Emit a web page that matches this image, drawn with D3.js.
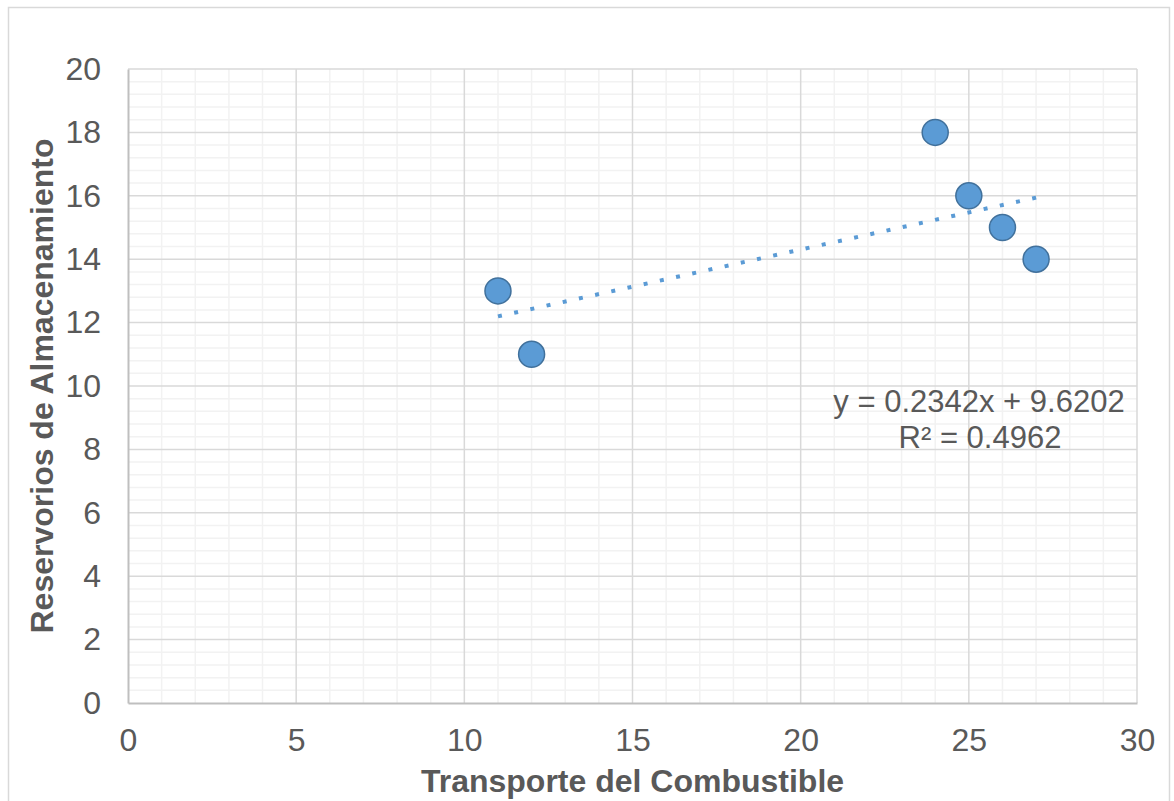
<!DOCTYPE html>
<html>
<head>
<meta charset="utf-8">
<script src="https://cdn.jsdelivr.net/npm/d3@7"></script>
<style>
  body { margin: 0; background: #fff; }
  text { font-family: "Liberation Sans", Arial, sans-serif; fill: #595959; }
</style>
</head>
<body>
<div id="chart"></div>
<script>
const width = 1174
const height = 801
const margin = { top: 69, right: 37, bottom: 98, left: 128 }

// datos
const transporte = [11, 12, 24, 25, 26, 27]
const reservorios = [13, 11, 18, 16, 15, 14]
const xTicks = [0, 5, 10, 15, 20, 25, 30]
const yTicks = [0, 2, 4, 6, 8, 10, 12, 14, 16, 18, 20]
const slope = 0.2342
const intercept = 9.6202
const eqLabel = "y = 0.2342x + 9.6202"
const r2Label = "R² = 0.4962"

const svg = d3.select("#chart").append("svg")
  .attr("width", width)
  .attr("height", height)

svg.append("rect")
  .attr("x", 8.5).attr("y", 7.5)
  .attr("width", 1161).attr("height", 800)
  .attr("fill", "none")
  .attr("stroke", "#d9d9d9")
  .attr("stroke-width", 1.5)

const x = d3.scaleLinear().domain([0, 30]).range([margin.left, width - margin.right])
const y = d3.scaleLinear().domain([0, 20]).range([height - margin.bottom, margin.top])

// minor grid
const xMinor = d3.range(0, 31, 1).filter(d => d % 5 !== 0)
const yMinor = d3.range(0, 20.01, 0.4).filter(d => Math.abs(d / 2 - Math.round(d / 2)) > 0.01)

svg.append("g").selectAll("line").data(xMinor).join("line")
  .attr("x1", d => x(d)).attr("x2", d => x(d))
  .attr("y1", y(0)).attr("y2", y(20))
  .attr("stroke", "#f2f2f2").attr("stroke-width", 1.5)
svg.append("g").selectAll("line").data(yMinor).join("line")
  .attr("y1", d => y(d)).attr("y2", d => y(d))
  .attr("x1", x(0)).attr("x2", x(30))
  .attr("stroke", "#f2f2f2").attr("stroke-width", 1.5)

// major grid
svg.append("g").selectAll("line").data(xTicks.slice(1)).join("line")
  .attr("x1", d => x(d)).attr("x2", d => x(d))
  .attr("y1", y(0)).attr("y2", y(20))
  .attr("stroke", "#d9d9d9").attr("stroke-width", 1.5)
svg.append("g").selectAll("line").data(yTicks.slice(1)).join("line")
  .attr("y1", d => y(d)).attr("y2", d => y(d))
  .attr("x1", x(0)).attr("x2", x(30))
  .attr("stroke", "#d9d9d9").attr("stroke-width", 1.5)

// axes
const xAxis = svg.append("g")
  .attr("transform", `translate(0,${y(0)})`)
  .call(d3.axisBottom(x).tickValues(xTicks).tickSize(0).tickPadding(25))
xAxis.select(".domain").attr("stroke", "#bfbfbf").attr("stroke-width", 2)
xAxis.selectAll("text").style("font-size", "32px").attr("fill", "#595959")

const yAxis = svg.append("g")
  .attr("transform", `translate(${x(0)},0)`)
  .call(d3.axisLeft(y).tickValues(yTicks).tickSize(0).tickPadding(27))
yAxis.select(".domain").attr("stroke", "#bfbfbf").attr("stroke-width", 2)
yAxis.selectAll("text").style("font-size", "32px").attr("fill", "#595959")

// trendline (punteado que termina en un punto)
const xs = d3.extent(transporte)
const x1 = x(xs[0]), y1 = y(slope * xs[0] + intercept)
const x2 = x(xs[1]), y2 = y(slope * xs[1] + intercept)
const len = Math.hypot(x2 - x1, y2 - y1)
const dot = 4
const n = Math.round((len - dot) / 16.6)
const period = (len - dot) / n
svg.append("line")
  .attr("x1", x1).attr("y1", y1)
  .attr("x2", x2).attr("y2", y2)
  .attr("stroke", "#5b9bd5")
  .attr("stroke-width", 4)
  .attr("stroke-dasharray", `${dot},${period - dot}`)

// points
svg.append("g").selectAll("circle").data(transporte).join("circle")
  .attr("cx", d => x(d))
  .attr("cy", (d, i) => y(reservorios[i]))
  .attr("r", 13)
  .attr("fill", "#5b9bd5")
  .attr("stroke", "#41719c")
  .attr("stroke-width", 1.5)

// equation
svg.append("text").attr("x", 979).attr("y", 412)
  .attr("text-anchor", "middle").style("font-size", "31px").text(eqLabel)
svg.append("text").attr("x", 980).attr("y", 448)
  .attr("text-anchor", "middle").style("font-size", "31px").text(r2Label)

// axis titles
svg.append("text")
  .attr("x", (x(0) + x(30)) / 2).attr("y", 792)
  .attr("text-anchor", "middle")
  .style("font-size", "32px").style("font-weight", "bold")
  .text("Transporte del Combustible")

svg.append("text")
  .attr("transform", `translate(53,${(y(0) + y(20)) / 2}) rotate(-90)`)
  .attr("text-anchor", "middle")
  .style("font-size", "32px").style("font-weight", "bold")
  .text("Reservorios de Almacenamiento")
</script>
</body>
</html>
